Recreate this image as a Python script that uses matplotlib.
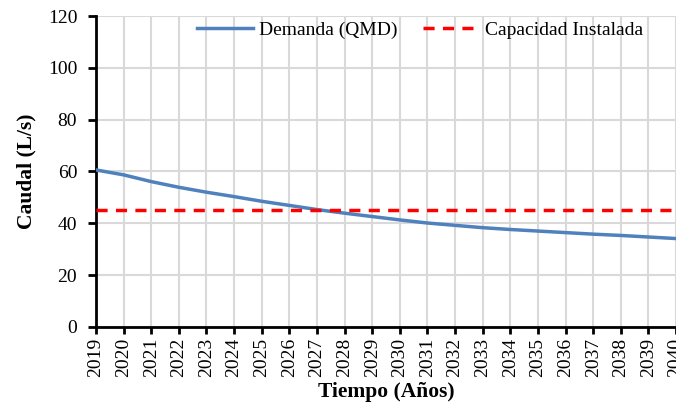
import matplotlib
matplotlib.use("Agg")
import matplotlib.pyplot as plt

years = list(range(2019, 2041))
demanda = [60.6, 58.7, 56.1, 53.9, 52.0, 50.3, 48.5, 46.9, 45.3, 43.9, 42.6,
           41.3, 40.1, 39.2, 38.3, 37.6, 37.0, 36.4, 35.8, 35.3, 34.7, 34.1]
capacidad = [45.0] * len(years)

plt.rcParams['font.family'] = ['Liberation Serif', 'DejaVu Serif']

fig = plt.figure(figsize=(6.76, 4.04), dpi=100)
ax = fig.add_axes([0.142, 0.191, 0.858, 0.769])

ax.plot(years, demanda, color='#4F81BD', lw=2.5, label='Demanda (QMD)', zorder=3)
ax.plot(years, capacidad, color='#FF0000', lw=2.5, ls=(0, (3.2, 2.4)), label='Capacidad Instalada', zorder=3)

ax.set_xlim(2019, 2040)
ax.set_ylim(0, 120)
ax.set_xticks(years)
ax.set_xticklabels([str(y) for y in years], rotation=90, fontsize=14)
ax.set_yticks(range(0, 121, 20))
ax.tick_params(axis='y', labelsize=14)
ax.grid(True, color='#D9D9D9', lw=1.5, zorder=0)
ax.set_axisbelow(True)
for s in ['top', 'right']:
    ax.spines[s].set_visible(False)
for s in ['left', 'bottom']:
    ax.spines[s].set_linewidth(2)
    ax.spines[s].set_color('black')
ax.tick_params(axis='y', direction='out', length=6, width=2, color='black', pad=7.5)
ax.tick_params(axis='x', direction='out', length=5, width=2, color='black', pad=3)

ax.set_xlabel('Tiempo (Años)', fontsize=15.5, fontweight='bold', labelpad=3.5)
ax.set_ylabel('Caudal (L/s)', fontsize=15.5, fontweight='bold', labelpad=8)

leg = ax.legend(loc='center', bbox_to_anchor=(0.559, 0.955), ncol=2, frameon=False,
                fontsize=14, handlelength=2.9, columnspacing=1.3, handletextpad=0.3,
                borderpad=0, borderaxespad=0)

fig.savefig('out.png', dpi=100)
